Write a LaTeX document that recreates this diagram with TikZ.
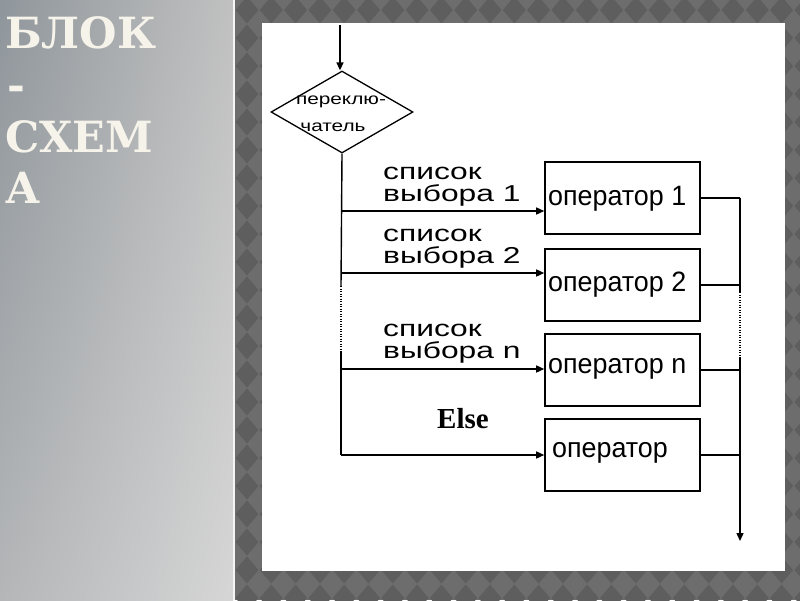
\documentclass[tikz,border=0pt]{standalone}
\usepackage{fontspec}
\setmainfont{Liberation Sans}
\newfontfamily\flowfont{Liberation Sans}
\newfontfamily\titlefont{DejaVu Serif}
\newfontfamily\elsefont{Liberation Serif}
\usetikzlibrary{shapes.geometric,arrows.meta,shadings}
\definecolor{leftdark}{HTML}{8F969B}
\definecolor{leftmid}{HTML}{B4B6B8}
\definecolor{leftlight}{HTML}{D6D6D6}
\definecolor{panelgray}{HTML}{6D6D6D}
\definecolor{diagray}{HTML}{5E5E5E}
\definecolor{titlewhite}{HTML}{F6F3EA}
\tikzset{
  flow/.style={line width=1.4pt, draw=black},
  arr/.style={flow, -{Triangle[length=8pt,width=7pt]}},
  dotline/.style={line width=1.2pt, dash pattern=on 1pt off 1.5pt},
  opbox/.style={draw=black, line width=1.6pt, fill=white, minimum width=155pt, minimum height=72pt, inner sep=0pt},
  optext/.style={anchor=west, inner sep=0pt, font=\flowfont\fontsize{28}{28}\selectfont},
  seltext/.style={anchor=west, inner sep=0pt, align=left, font=\flowfont\fontsize{23}{22}\selectfont},
  dtext/.style={inner sep=0pt, font=\flowfont\fontsize{16}{16}\selectfont},
  titletext/.style={anchor=base west, inner sep=0pt, text=titlewhite, font=\titlefont\bfseries\fontsize{43}{43}\selectfont},
}
\begin{document}
\begin{tikzpicture}[x=1pt,y=-1pt]
\useasboundingbox (0,0) rectangle (800,600);
% left panel
\shade[upper left=leftdark, upper right=leftlight!90!black, lower left=leftmid, lower right=leftlight] (0,0) rectangle (233,600);
\fill[white!92!gray] (233,0) rectangle (235,600);
% right patterned panel
\fill[panelgray] (235,0) rectangle (800,600);
\foreach \i in {0,...,23} {
  \foreach \j in {0,...,21} {
    \fill[diagray] ({247+24.3*\i},{10+28*\j}) ++(-11.5,0) -- ++(11.5,-13.5) -- ++(11.5,13.5) -- ++(-11.5,13.5) -- cycle;
  }
}
\fill[white] (262,23) rectangle (785,571);
% title
\node[titletext] (t1) at (5,48) {БЛОК};
\node[titletext] (t2) at (7,100) {-};
\node[titletext] (t3) at (5,152) {СХЕМ};
\node[titletext] (t4) at (5,203) {А};
% flowchart
\coordinate (start) at (340,25);
\node[diamond, draw=black, line width=1.3pt, minimum width=142pt, minimum height=82pt, inner sep=0pt, aspect=1.73] (sw) at (342,112) {};
\node[dtext] (sw1) at (341,102) {\scalebox{1.3}[1]{переклю-}};
\node[dtext] (sw2) at (333,127) {\scalebox{1.3}[1]{чатель}};
\draw[arr] (start) -- (start |- sw.north);

\node[opbox] (op1) at (622.5,198) {};
\node[opbox] (op2) at (622.5,285) {};
\node[opbox] (opn) at (622.5,370) {};
\node[opbox] (ope) at (622.5,455) {};
\node[optext] (op1t) at (548,199) {\scalebox{0.96}[1]{оператор 1}};
\node[optext] (op2t) at (548,285) {\scalebox{0.96}[1]{оператор 2}};
\node[optext] (opnt) at (548,369) {\scalebox{0.96}[1]{оператор n}};
\node[optext] (opet) at (552,453) {\scalebox{0.96}[1]{оператор}};

\node[seltext] (s1) at (383,187) {\scalebox{1.38}[1]{список}\\\scalebox{1.38}[1]{выбора 1}};
\node[seltext] (s2) at (383,249) {\scalebox{1.38}[1]{список}\\\scalebox{1.38}[1]{выбора 2}};
\node[seltext] (sn) at (383,344) {\scalebox{1.38}[1]{список}\\\scalebox{1.38}[1]{выбора n}};
\node[inner sep=0pt, font=\elsefont\bfseries\fontsize{29}{29}\selectfont] (else) at (463,419) {Else};

% left trunk
\coordinate (b1) at (341,211);
\coordinate (b2) at (341,273);
\coordinate (d1) at (341,286);
\coordinate (d2) at (341,352);
\coordinate (bn) at (341,369);
\coordinate (be) at (341,455);
\draw[flow] (sw.south) -- (d1);
\draw[dotline] (d1) -- (d2);
\draw[flow] (d2) -- (be);
\draw[arr] (b1) -- (op1.west |- b1);
\draw[arr] (b2) -- (op2.west |- b2);
\draw[arr] (bn) -- (opn.west |- bn);
\draw[arr] (be) -- (ope.west |- be);

% right collector
\coordinate (r1) at (740,198);
\coordinate (r2) at (740,285);
\coordinate (rd1) at (740,292);
\coordinate (rd2) at (740,357);
\coordinate (rn) at (740,370);
\coordinate (re) at (740,455);
\coordinate (rend) at (740,541);
\draw[flow] (op1.east) -- (r1);
\draw[flow] (op2.east) -- (r2);
\draw[flow] (opn.east) -- (rn);
\draw[flow] (ope.east) -- (re);
\draw[flow] (r1) -- (rd1);
\draw[dotline] (rd1) -- (rd2);
\draw[arr] (rd2) -- (rend);
\end{tikzpicture}
\end{document}
